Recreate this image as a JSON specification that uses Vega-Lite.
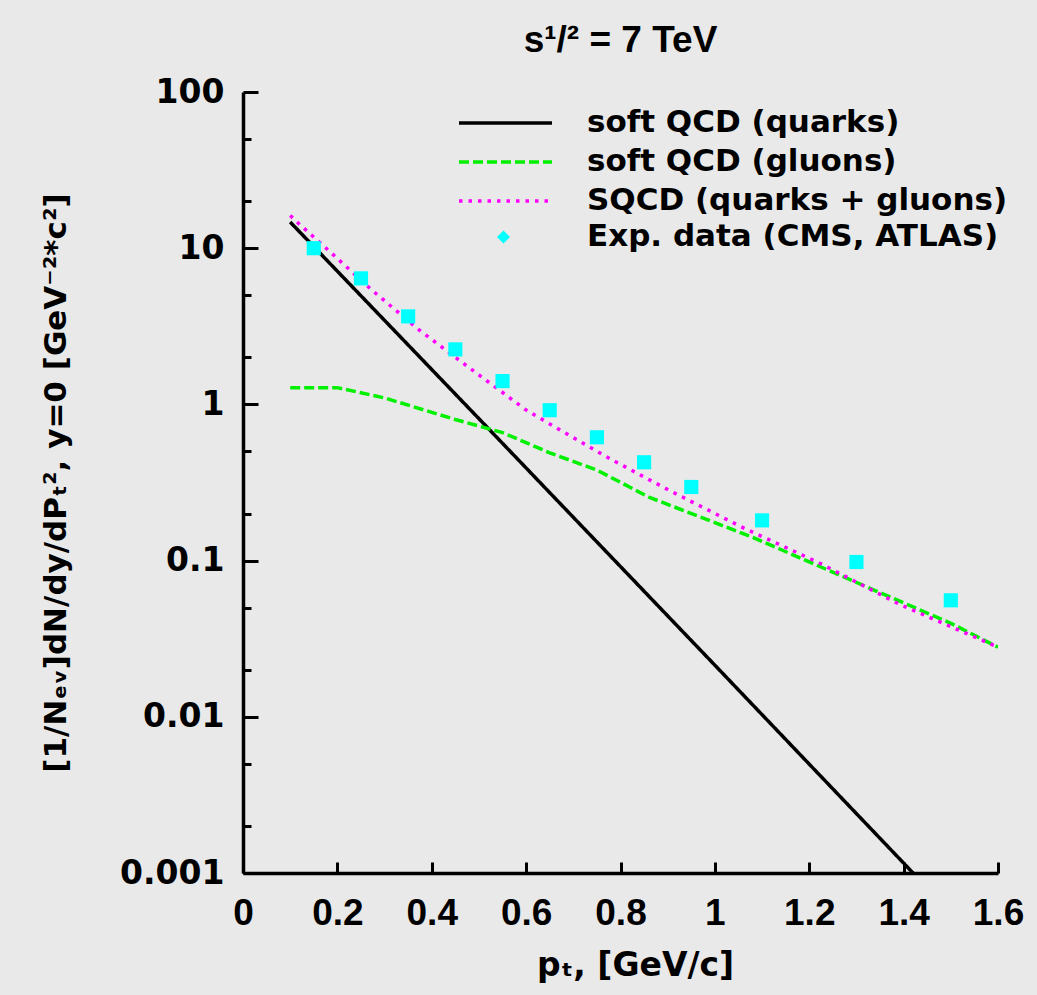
{
  "$schema": "https://vega.github.io/schema/vega-lite/v6.json",
  "width": 755,
  "height": 781,
  "autosize": {"type": "none"},
  "padding": {"left": 243, "top": 92, "right": 39, "bottom": 122},
  "background": "#e9e9e9",
  "title": {"text": "s¹/² = 7 TeV", "font": "Liberation Sans", "fontSize": 37, "fontWeight": "bold", "color": "black", "anchor": "middle", "baseline": "alphabetic", "offset": -13},
  "datasets": {
    "lines": [
      {"series": "soft QCD (quarks)", "pt": 0.1, "val": 14.7},
      {"series": "soft QCD (quarks)", "pt": 0.5, "val": 0.81},
      {"series": "soft QCD (quarks)", "pt": 1.0, "val": 0.0214},
      {"series": "soft QCD (quarks)", "pt": 1.42, "val": 0.001},
      {"series": "soft QCD (gluons)", "pt": 0.1, "val": 1.28},
      {"series": "soft QCD (gluons)", "pt": 0.2, "val": 1.28},
      {"series": "soft QCD (gluons)", "pt": 0.3, "val": 1.1},
      {"series": "soft QCD (gluons)", "pt": 0.4, "val": 0.89},
      {"series": "soft QCD (gluons)", "pt": 0.45, "val": 0.8},
      {"series": "soft QCD (gluons)", "pt": 0.55, "val": 0.66},
      {"series": "soft QCD (gluons)", "pt": 0.65, "val": 0.49},
      {"series": "soft QCD (gluons)", "pt": 0.75, "val": 0.38},
      {"series": "soft QCD (gluons)", "pt": 0.86, "val": 0.255},
      {"series": "soft QCD (gluons)", "pt": 1.0, "val": 0.175},
      {"series": "soft QCD (gluons)", "pt": 1.08, "val": 0.141},
      {"series": "soft QCD (gluons)", "pt": 1.29, "val": 0.0747},
      {"series": "soft QCD (gluons)", "pt": 1.5, "val": 0.0397},
      {"series": "soft QCD (gluons)", "pt": 1.6, "val": 0.0279},
      {"series": "SQCD (quarks + gluons)", "pt": 0.1, "val": 16.2},
      {"series": "SQCD (quarks + gluons)", "pt": 0.12, "val": 14.2},
      {"series": "SQCD (quarks + gluons)", "pt": 0.17, "val": 10.4},
      {"series": "SQCD (quarks + gluons)", "pt": 0.27, "val": 5.5},
      {"series": "SQCD (quarks + gluons)", "pt": 0.37, "val": 3.05},
      {"series": "SQCD (quarks + gluons)", "pt": 0.46, "val": 1.9},
      {"series": "SQCD (quarks + gluons)", "pt": 0.6, "val": 0.92},
      {"series": "SQCD (quarks + gluons)", "pt": 0.66, "val": 0.72},
      {"series": "SQCD (quarks + gluons)", "pt": 0.78, "val": 0.445},
      {"series": "SQCD (quarks + gluons)", "pt": 0.9, "val": 0.285},
      {"series": "SQCD (quarks + gluons)", "pt": 1.055, "val": 0.165},
      {"series": "SQCD (quarks + gluons)", "pt": 1.22, "val": 0.097},
      {"series": "SQCD (quarks + gluons)", "pt": 1.39, "val": 0.0527},
      {"series": "SQCD (quarks + gluons)", "pt": 1.6, "val": 0.0279}
    ],
    "points": [
      {"dataset": "Exp. data (CMS, ATLAS)", "pt": 0.15, "val": 10.0},
      {"dataset": "Exp. data (CMS, ATLAS)", "pt": 0.25, "val": 6.41},
      {"dataset": "Exp. data (CMS, ATLAS)", "pt": 0.35, "val": 3.66},
      {"dataset": "Exp. data (CMS, ATLAS)", "pt": 0.45, "val": 2.25},
      {"dataset": "Exp. data (CMS, ATLAS)", "pt": 0.55, "val": 1.41},
      {"dataset": "Exp. data (CMS, ATLAS)", "pt": 0.65, "val": 0.918},
      {"dataset": "Exp. data (CMS, ATLAS)", "pt": 0.75, "val": 0.616},
      {"dataset": "Exp. data (CMS, ATLAS)", "pt": 0.85, "val": 0.426},
      {"dataset": "Exp. data (CMS, ATLAS)", "pt": 0.95, "val": 0.296},
      {"dataset": "Exp. data (CMS, ATLAS)", "pt": 1.1, "val": 0.181},
      {"dataset": "Exp. data (CMS, ATLAS)", "pt": 1.3, "val": 0.098},
      {"dataset": "Exp. data (CMS, ATLAS)", "pt": 1.5, "val": 0.0557}
    ]
  },
  "encoding": {
    "x": {
      "field": "pt", "type": "quantitative",
      "scale": {"domain": [0, 1.6], "nice": false, "zero": false},
      "axis": {
        "title": "pₜ, [GeV/c]",
        "values": [0, 0.2, 0.4, 0.6, 0.8, 1, 1.2, 1.4, 1.6],
        "format": "~g",
        "grid": false,
        "labelFlush": false,
        "labelOverlap": false,
        "domainColor": "black", "domainWidth": 3.5,
        "tickColor": "black", "tickWidth": 3, "tickSize": -11,
        "labelFont": "Liberation Sans", "labelFontSize": 37, "labelFontWeight": "bold", "labelColor": "black",
        "labelPadding": 33,
        "titleFont": "DejaVu Sans", "titleFontSize": 33, "titleFontWeight": "bold", "titleColor": "black",
        "titlePadding": 18,
        "titleX": 392
      }
    },
    "y": {
      "field": "val", "type": "quantitative",
      "scale": {"type": "log", "domain": [0.001, 100], "nice": false},
      "axis": {
        "title": "[1/Nₑᵥ]dN/dy/dPₜ², y=0 [GeV⁻²*c²]",
        "values": [0.001, 0.002, 0.005, 0.01, 0.02, 0.05, 0.1, 0.2, 0.5, 1, 2, 5, 10, 20, 50, 100],
        "format": "~g",
        "labelExpr": "indexof([0.001,0.01,0.1,1,10,100], datum.value) >= 0 ? datum.label : ''",
        "grid": false,
        "domainColor": "black", "domainWidth": 3.5,
        "tickColor": "black", "tickWidth": 3,
        "tickSize": {"condition": {"test": "indexof([0.001,0.01,0.1,1,10,100], datum.value) >= 0", "value": -15}, "value": -8},
        "labelFont": "DejaVu Sans", "labelFontSize": 33, "labelFontWeight": "bold", "labelColor": "black",
        "labelPadding": 34,
        "labelOverlap": false,
        "titleFont": "DejaVu Sans", "titleFontSize": 31, "titleFontWeight": "bold", "titleColor": "black",
        "titlePadding": 47
      }
    }
  },
  "layer": [
    {
      "data": {"name": "lines"},
      "mark": {"type": "line", "strokeWidth": 3.5, "strokeCap": "butt", "clip": true},
      "encoding": {
        "color": {
          "field": "series", "type": "nominal",
          "scale": {"domain": ["soft QCD (quarks)", "soft QCD (gluons)", "SQCD (quarks + gluons)"], "range": ["#000000", "#00f000", "#ff00ff"]},
          "legend": {
            "title": null, "orient": "none", "legendX": 214, "legendY": 16,
            "symbolType": "stroke", "symbolSize": 8649, "symbolStrokeWidth": 3.5,
            "clipHeight": 30, "rowPadding": 8, "labelOffset": 33, "padding": 0,
            "labelFont": "DejaVu Sans", "labelFontSize": 31, "labelFontWeight": "bold", "labelColor": "black", "labelLimit": 700
          }
        },
        "strokeDash": {
          "field": "series", "type": "nominal",
          "scale": {"domain": ["soft QCD (quarks)", "soft QCD (gluons)", "SQCD (quarks + gluons)"], "range": [[1, 0], [10, 4], [3.5, 6]]},
          "legend": {
            "title": null, "orient": "none", "legendX": 214, "legendY": 16,
            "symbolType": "stroke", "symbolSize": 8649, "symbolStrokeWidth": 3.5,
            "clipHeight": 30, "rowPadding": 8, "labelOffset": 33, "padding": 0,
            "labelFont": "DejaVu Sans", "labelFontSize": 31, "labelFontWeight": "bold", "labelColor": "black", "labelLimit": 700
          }
        }
      }
    },
    {
      "data": {"name": "points"},
      "mark": {"type": "point", "shape": "square", "size": 200, "filled": true, "opacity": 1, "strokeWidth": 0},
      "encoding": {
        "fill": {
          "field": "dataset", "type": "nominal",
          "scale": {"range": ["#00ffff"]},
          "legend": {
            "title": null, "orient": "none", "legendX": 214, "legendY": 130,
            "symbolType": "diamond", "symbolSize": 170, "symbolStrokeWidth": 0, "symbolOpacity": 1,
            "symbolOffset": 31, "clipHeight": 30, "labelOffset": 68, "padding": 0,
            "labelFont": "DejaVu Sans", "labelFontSize": 31, "labelFontWeight": "bold", "labelColor": "black", "labelLimit": 700
          }
        }
      }
    }
  ],
  "config": {
    "view": {"stroke": null},
    "font": "Liberation Sans"
  }
}
